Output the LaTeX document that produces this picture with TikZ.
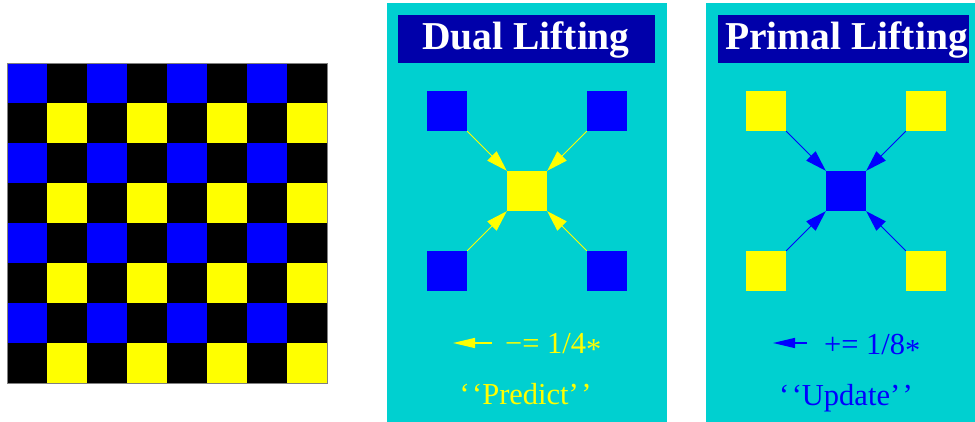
\documentclass[tikz,border=0pt]{standalone}
\usepackage{fontspec}
\setmainfont{Liberation Serif}
\usetikzlibrary{arrows.meta}
\definecolor{panelcyan}{RGB}{0,208,208}
\definecolor{titleblue}{RGB}{0,0,170}
\definecolor{sqblue}{RGB}{0,0,255}
\definecolor{sqyellow}{RGB}{255,255,0}
\tikzset{
  sq/.style={rectangle, minimum size=40pt, inner sep=0pt, draw=none},
  panel/.style={fill=panelcyan, draw=none},
  titlebox/.style={rectangle, fill=titleblue, inner sep=0pt, minimum height=48pt},
  titletext/.style={text=white, font=\fontsize{39.5}{41}\selectfont\bfseries, inner sep=0pt, anchor=base},
  bigarr/.style={line width=1pt, -{Triangle[length=21pt,width=13pt]}},
  smallarr/.style={line width=1.5pt, -{Triangle[length=22pt,width=10pt]}},
  lbl/.style={font=\fontsize{30.5}{32}\selectfont, inner sep=0pt, anchor=base},
}
\begin{document}
\begin{tikzpicture}[x=1pt,y=-1pt]
\useasboundingbox (0,0) rectangle (975,422);
% checkerboard
\foreach \i in {0,...,7}{
  \foreach \j in {0,...,7}{
    \pgfmathtruncatemacro{\a}{mod(\i,2)}
    \pgfmathtruncatemacro{\b}{mod(\j,2)}
    \ifnum\a=0 \ifnum\b=0 \def\cc{sqblue}\else\def\cc{black}\fi
    \else \ifnum\b=1 \def\cc{sqyellow}\else\def\cc{black}\fi\fi
    \fill[\cc] (7+40*\i,63+40*\j) rectangle (47+40*\i,103+40*\j);
  }
}
\draw[gray, line width=0.8pt] (7,63) rectangle (327,383);
% panels
\fill[panel] (387,3) rectangle (667,422);
\fill[panel] (706,3) rectangle (975,422);
% titles
\node[titlebox, minimum width=257pt] (dtb) at (526.5,39) {};
\node[titletext] (dtt) at (526,50) {Dual Lifting};
\node[titlebox, minimum width=251pt] (ptb) at (843.5,39) {};
\node[titletext] (ptt) at (846.5,50) {Primal Lifting};
% dual squares
\node[sq, fill=sqblue] (dtl) at (447,111) {};
\node[sq, fill=sqblue] (dtr) at (607,111) {};
\node[sq, fill=sqblue] (dbl) at (447,271) {};
\node[sq, fill=sqblue] (dbr) at (607,271) {};
\node[sq, fill=sqyellow] (dc) at (527,191) {};
\draw[bigarr, sqyellow] (dtl.south east) -- (dc.north west);
\draw[bigarr, sqyellow] (dtr.south west) -- (dc.north east);
\draw[bigarr, sqyellow] (dbl.north east) -- (dc.south west);
\draw[bigarr, sqyellow] (dbr.north west) -- (dc.south east);
% primal squares
\node[sq, fill=sqyellow] (ptl) at (766,111) {};
\node[sq, fill=sqyellow] (ptr) at (926,111) {};
\node[sq, fill=sqyellow] (pbl) at (766,271) {};
\node[sq, fill=sqyellow] (pbr) at (926,271) {};
\node[sq, fill=sqblue] (pc) at (846,191) {};
\draw[bigarr, sqblue] (ptl.south east) -- (pc.north west);
\draw[bigarr, sqblue] (ptr.south west) -- (pc.north east);
\draw[bigarr, sqblue] (pbl.north east) -- (pc.south west);
\draw[bigarr, sqblue] (pbr.north west) -- (pc.south east);
% bottom labels dual
\coordinate (da0) at (492,343);
\coordinate (da1) at (453,343);
\draw[smallarr, sqyellow] (da0) -- (da1);
\node[lbl, anchor=base west, text=sqyellow] (dop) at (505,353) {\char"2212= 1/4\raisebox{-0.22em}{*}};
\node[lbl, text=sqyellow] (dname) at (525.5,404) {‘\kern0.08em‘Predict’\kern0.08em’};
% bottom labels primal
\coordinate (pa0) at (807,343);
\coordinate (pa1) at (773,343);
\draw[smallarr, sqblue] (pa0) -- (pa1);
\node[lbl, anchor=base west, text=sqblue] (pop) at (824,354) {+= 1/8\raisebox{-0.22em}{*}};
\node[lbl, text=sqblue] (pname) at (846,405) {‘\kern0.08em‘Update’\kern0.08em’};
\end{tikzpicture}
\end{document}
